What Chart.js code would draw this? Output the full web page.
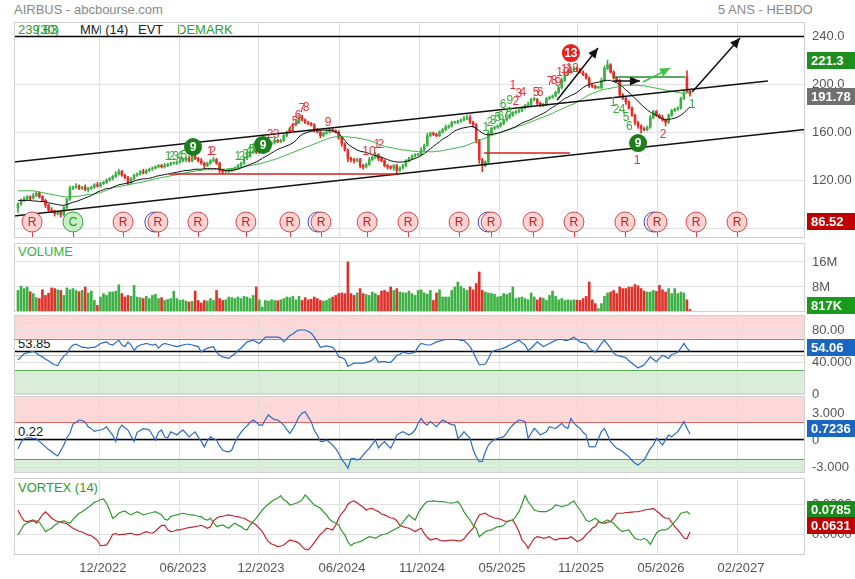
<!DOCTYPE html>
<html>
<head>
<meta charset="utf-8">
<script src="https://cdn.jsdelivr.net/npm/chart.js@4.4.1/dist/chart.umd.min.js"></script>
<style>
  body { margin: 0; width: 855px; height: 579px; background: #fff; position: relative; overflow: hidden; font-family: Arial, "Liberation Sans", sans-serif; }
  canvas { position: absolute; }
  .t { position: absolute; font-size: 13px; line-height: 15px; white-space: nowrap; }
  .badge { position: absolute; left: 807px; width: 48px; height: 17px; line-height: 17px; color: #fff; font-weight: bold; font-size: 13px; padding-left: 4px; box-sizing: border-box; z-index: 5; }
</style>
</head>
<body>
<div class="t" style="left:14px;top:2px;color:#888">AIRBUS - abcbourse.com</div>
<div class="t" style="left:718px;top:2px;color:#888">5 ANS - HEBDO</div>
<div class="t" style="left:18px;top:22px;color:#2e9e2e">239.83</div>
<div class="t" style="left:36px;top:22px;color:#2e9e2e">(30)</div>
<div class="t" style="left:80px;top:22px;color:#222">MM (14)</div>
<div class="t" style="left:138px;top:22px;color:#222">EVT</div>
<div class="t" style="left:177px;top:22px;color:#2e9e2e">DEMARK</div>
<div class="t" style="left:18px;top:244px;color:#3cb043">VOLUME</div>
<div class="t" style="left:18px;top:316px;color:#3a6fc0">RSI (14)</div>
<div class="t" style="left:18px;top:336px;color:#111">53.85</div>
<div class="t" style="left:18px;top:398px;color:#3a6fc0">PGO (14)</div>
<div class="t" style="left:18px;top:424px;color:#111">0.22</div>
<div class="t" style="left:18px;top:480px;color:#2e9a2e">VORTEX (14)</div>

<div class="badge" style="top:52px;background:#1e8e1e">221.3</div>
<div class="badge" style="top:88px;background:#707070">191.78</div>
<div class="badge" style="top:213px;background:#c00000">86.52</div>
<div class="badge" style="top:297px;background:#1a9a1a">817K</div>
<div class="badge" style="top:339px;background:#1a66c0">54.06</div>
<div class="badge" style="top:420px;background:#1a66c0">0.7236</div>
<div class="badge" style="top:501px;background:#1a8a1a">0.0785</div>
<div class="badge" style="top:517px;background:#c00000">0.0631</div>

<script>
// weekly data, oldest first
const closes = [
  100, 103, 104, 106, 105, 107, 109, 106, 103, 99,
  95, 94, 92, 93, 91, 97, 104, 113, 114, 115,
  113, 114, 112, 113, 114, 116, 115, 117, 118, 120,
  121, 123, 125, 127, 124, 122, 118, 121, 124, 125,
  127, 126, 128, 129, 130, 131, 132, 131, 132, 133,
  134, 134, 135, 136, 137, 138, 136, 140, 138, 136,
  134, 132, 134, 136, 137, 134, 128, 127, 127, 128,
  129, 130, 132, 134, 138, 140, 143, 144, 143, 145,
  147, 149, 150, 151, 153, 152, 153, 157, 160, 163,
  166, 168, 172, 170, 168, 167, 166, 162, 160, 157,
  159, 160, 162, 161, 160, 155, 150, 145, 138, 137,
  136, 137, 132, 131, 133, 137, 139, 141, 138, 136,
  132, 131, 130, 132, 128, 130, 132, 136, 138, 140,
  141, 141, 145, 149, 157, 159, 158, 157, 160, 162,
  164, 165, 168, 168, 169, 170, 171, 172, 168, 166,
  153, 137, 132, 135, 159, 163, 164, 165, 167, 170,
  172, 174, 176, 177, 178, 180, 182, 183, 187, 187,
  184, 182, 183, 188, 189, 190, 193, 197, 203, 208,
  210, 212, 213, 212, 210, 208, 205, 199, 198, 197,
  197, 203, 213, 216, 210, 205, 203, 191, 188, 185,
  180, 174, 168, 165, 163, 162, 164, 172, 177, 174,
  172, 170, 168, 174, 178, 179, 180, 188, 192, 194,
  191.78
];
const firstOpen = 97;
const openGaps = [[219, 206]];
const wickUp = [
  1,1,2,1,1,2,1,1,1,1, 1,2,1,1,1,1,1,2,1,2, 1,1,2,1,1,1,2,1,1,1, 1,1,2,2,1,1,1,1,1,1,
  1,2,1,1,1,1,1,1,2,1, 1,1,1,2,1,1,2,3,1,1, 2,1,1,1,2,1,1,1,1,1, 1,1,1,1,1,2,1,1,2,1,
  1,1,1,1,2,1,1,1,1,1, 1,2,2,2,1,1,1,1,1,1, 1,2,1,1,1,1,1,1,1,1, 1,1,1,1,1,2,1,2,1,1,
  1,1,1,1,1,1,1,1,1,1, 1,1,2,1,2,1,1,1,1,1, 2,1,1,1,1,1,2,2,2,1, 1,1,1,1,2,1,1,1,1,1,
  1,1,1,1,1,1,1,2,1,2, 1,1,1,1,1,1,1,1,2,2, 2,2,2,1,1,1,1,1,1,1, 1,2,2,4,1,1,1,1,1,1,
  1,1,1,1,1,1,1,2,1,1, 1,2,1,1,1,1,1,1,2,5, 1
];
const wickDown = [
  4,1,1,1,2,1,1,1,1,2, 1,1,2,1,2,1,1,1,1,1, 1,1,1,2,1,1,1,1,1,1, 1,1,1,1,1,1,2,1,1,1,
  1,1,1,1,1,1,1,1,1,1, 1,1,1,1,1,2,1,1,1,1, 1,2,1,1,1,1,2,2,1,1, 1,1,1,1,1,1,1,1,1,1,
  1,1,1,1,1,1,1,1,1,1, 1,1,1,1,1,1,1,2,1,2, 1,1,1,1,1,1,2,1,3,2, 2,1,2,2,1,1,1,1,2,1,
  1,2,1,2,3,1,1,1,1,1, 1,1,1,1,1,1,1,1,1,1, 1,1,1,1,1,1,1,1,1,2, 2,3,5,1,1,1,1,1,1,1,
  1,1,1,1,1,1,1,1,1,1, 2,1,1,1,1,1,1,1,1,1, 1,1,1,1,1,1,1,2,1,1, 1,1,1,1,1,1,1,2,1,2,
  1,1,2,2,4,1,1,1,1,1, 1,1,3,1,1,1,1,1,1,1, 2
];
const volumes = [
  6.9, 8.3, 7.5, 8.0, 6.5, 5.9, 4.6, 4.3, 7.1, 5.3,
  6.0, 7.7, 7.5, 7.1, 6.9, 5.3, 7.7, 7.1, 7.5, 6.9,
  6.5, 6.9, 8.0, 6.1, 6.7, 3.7, 2.1, 4.8, 5.9, 5.3,
  6.4, 6.4, 6.7, 8.7, 5.9, 4.8, 5.3, 5.0, 8.5, 4.8,
  4.6, 4.3, 5.0, 4.3, 5.3, 5.7, 4.3, 4.6, 3.7, 4.0,
  4.3, 6.6, 4.3, 3.7, 3.9, 3.5, 3.2, 3.4, 6.7, 3.7,
  2.9, 3.7, 3.5, 4.3, 3.7, 6.9, 4.3, 3.7, 3.9, 4.8,
  4.6, 4.3, 4.8, 4.3, 5.0, 4.8, 4.3, 5.3, 8.0, 3.9,
  1.6, 3.7, 3.5, 3.9, 3.7, 3.6, 3.9, 4.3, 4.8, 4.6,
  5.0, 3.9, 5.0, 3.7, 4.6, 3.9, 4.1, 4.8, 4.3, 3.7,
  3.5, 3.7, 4.3, 4.8, 5.3, 5.9, 6.1, 5.9, 16.0, 5.9,
  5.3, 6.1, 7.5, 5.9, 5.6, 5.3, 6.4, 5.9, 5.3, 6.7,
  6.9, 6.4, 8.0, 6.9, 7.5, 6.4, 6.2, 6.1, 6.7, 5.9,
  5.3, 6.9, 7.1, 6.1, 5.7, 6.9, 3.7, 6.1, 7.1, 4.8,
  4.8, 4.8, 6.9, 8.0, 9.6, 8.2, 7.5, 6.9, 8.0, 7.1,
  9.1, 12.8, 6.9, 6.4, 6.1, 5.9, 5.7, 4.8, 5.0, 5.9,
  5.6, 6.1, 8.0, 4.3, 4.6, 4.8, 4.3, 3.9, 6.1, 4.8,
  3.9, 4.6, 4.4, 3.7, 5.3, 6.7, 5.0, 3.9, 4.3, 3.7,
  3.9, 3.7, 3.9, 3.8, 3.7, 4.3, 5.0, 9.6, 3.9, 2.7,
  1.1, 2.7, 5.0, 6.1, 6.4, 6.9, 5.9, 8.0, 7.5, 7.5,
  8.0, 8.0, 8.8, 8.4, 7.5, 6.7, 6.4, 6.4, 6.9, 6.6,
  8.5, 7.1, 6.4, 7.5, 5.9, 7.5, 5.9, 6.4, 6.1, 3.9,
  0.817
];
const ma14 = [
  103, 103, 103, 103, 103, 102.5, 102.5, 102, 102, 102,
  101, 100.5, 100, 99.5, 99, 99, 99.5, 100.5, 101.5, 102,
  103, 104, 105, 106, 107, 108.5, 110, 111, 112, 113,
  113, 114, 115, 116, 116.5, 117, 117.5, 118, 119, 120,
  120.5, 121, 121, 121.5, 122, 123, 123.5, 124, 124.5, 125,
  125.5, 126, 126.5, 127, 127.5, 128, 128, 128.5, 129, 129,
  129, 129.5, 129.5, 129.5, 129.5, 129.5, 129, 128.5, 128, 128,
  128, 128.5, 129, 130, 131, 132, 133, 134, 135, 136.5,
  138, 139.5, 141, 142.5, 144, 145.5, 146.5, 147.5, 148.5, 149.5,
  151, 153, 156, 158, 159, 160, 160.5, 161, 161.5, 161.5,
  161.5, 161.5, 161.5, 161, 160, 159, 156, 153, 150, 148,
  146.5, 145, 144, 143.5, 143, 142, 141, 140.5, 139.5, 139,
  138, 137, 136, 135.5, 135, 135, 135, 135.5, 136, 137,
  138, 139, 140.5, 142, 144, 146, 148, 150, 152, 154,
  155.5, 157, 159, 161, 162, 163, 163.5, 164, 164.5, 164.5,
  163, 161, 159, 158, 157.5, 158, 158.5, 159, 159.5, 160.5,
  161.5, 162.5, 163.5, 164.5, 166, 167.5, 168.5, 169.5, 170.5, 172,
  173, 174.5, 175.5, 177, 179, 180.5, 182, 184, 186, 188,
  189, 190.5, 191.5, 193, 195, 197, 198.5, 199.5, 200.5, 201,
  201.5, 202, 203, 203, 203, 202, 201, 199.5, 197.5, 195,
  193, 190.5, 188, 185.5, 183, 180.5, 178.5, 176.5, 175, 174,
  172.5, 171, 170, 170.5, 171, 171.5, 172.5, 174, 176, 178.5,
  181
];
const ma30 = [
  111, 111, 111, 111, 111, 111, 110.5, 110, 109.5, 109,
  108.5, 108, 107.5, 107, 106.5, 106, 106, 106, 106, 106.5,
  106.5, 107, 107.5, 108, 108, 108.5, 109, 109.5, 110.5, 111.5,
  112.5, 113.5, 114, 114.5, 115, 115.5, 116, 116.5, 117, 117.5,
  118, 118.5, 119, 119.5, 120.5, 121, 121.5, 122, 122.5, 123,
  123.5, 124, 124.5, 125, 125.5, 126, 126.5, 127, 127.5, 128,
  128, 128.5, 128.5, 128.5, 128.5, 129, 129, 129, 129, 129.5,
  129.5, 130, 130, 130.5, 131, 131.5, 132, 132.5, 133, 133.5,
  134, 135, 135.5, 136.5, 137, 138, 139, 140, 141, 142,
  143, 144, 145, 146, 147, 148, 149, 150, 151, 152,
  153, 154, 155, 155.5, 156, 156, 156, 156, 156, 155.5,
  155.5, 155, 154.5, 154, 153.5, 153, 152, 151, 150, 149,
  148, 147.5, 147, 146.5, 146, 145.5, 145, 145, 144.5, 144,
  144, 143.5, 143.5, 143.5, 143.5, 143.5, 143.5, 144, 144, 144.5,
  145, 145.5, 146, 146.5, 147, 147.5, 148, 149, 150, 151,
  152, 153, 154, 155, 156, 157, 158, 159, 160, 161,
  161.5, 162, 163, 164, 165, 165.5, 166.5, 167.5, 168.5, 169.5,
  170.5, 171.5, 172.5, 173.5, 174.5, 175.5, 177, 178, 179, 180.5,
  181.5, 182.5, 183.5, 185, 186.5, 188, 189.5, 191, 192, 193,
  194, 195, 195.5, 196, 196.5, 197, 197.5, 198, 198.5, 199,
  199, 199, 199, 199, 198.5, 198.5, 198, 197.5, 197, 196.5,
  196, 195.5, 195, 194.5, 194, 193.5, 193, 192.5, 192.5, 192.5,
  193
];
const rsi = [
  43, 47, 51, 52, 53, 54, 52, 49, 47, 44,
  42, 39, 37, 36, 43, 48, 51, 58, 62, 63,
  61, 59, 59, 58, 59, 59, 61, 64, 65, 66,
  63, 62, 65, 68, 62, 60, 66, 62, 55, 60,
  62, 63, 64, 63, 62, 63, 58, 62, 64, 63,
  62, 61, 60, 61, 62, 63, 63, 62, 61, 60,
  53, 56, 58, 59, 60, 53, 49, 47, 46, 45,
  48, 51, 55, 58, 62, 66, 67, 68, 66, 64,
  68, 72, 72, 72, 72, 72, 71, 66, 70, 74,
  76, 79, 81, 81, 81, 79, 77, 72, 66, 59,
  60, 61, 60, 59, 55, 47, 46, 44, 35, 37,
  39, 39, 39, 39, 40, 41, 43, 47, 40, 41,
  41, 40, 40, 44, 49, 50, 53, 52, 51, 52,
  53, 60, 64, 63, 62, 62, 64, 66, 67, 68,
  69, 69, 69, 69, 69, 68, 68, 64, 60, 53,
  45, 37, 37, 38, 45, 53, 55, 56, 57, 58,
  60, 62, 64, 66, 68, 65, 62, 55, 58, 62,
  66, 63, 60, 62, 64, 66, 68, 69, 69, 68,
  68, 70, 72, 69, 66, 65, 64, 58, 55, 53,
  58, 64, 68, 63, 58, 52, 49, 48, 47, 46,
  42, 39, 36, 33, 35, 37, 42, 47, 44, 41,
  45, 49, 47, 45, 50, 51, 53, 58, 64, 58,
  54.06
];
const pgo = [
  -0.9, -0.2, 0.2, 0.3, 0.3, 0.2, 0.2, -0.1, -0.4, -0.7,
  -1.0, -1.2, -1.5, -1.7, -1.1, -0.5, 0.3, 0.8, 1.8, 2.0,
  2.25, 2.2, 2.05, 1.5, 1.3, 1.0, 1.1, 1.15, 1.3, 1.5,
  1.0, 0.6, -0.1, 1.2, 1.7, 1.4, 1.15, 0.5, -0.1, 0.9,
  1.1, 1.3, 1.25, 1.15, 0.6, 0.05, 0.9, 1.15, 0.4, 0.3,
  0.95, 0.8, 0.6, 0.9, 1.15, 0.8, 0.4, 0.7, 0.95, 0.4,
  -0.1, -0.7, 0.0, 0.4, 0.2, 0.05, -0.6, -1.05, -1.2, -1.25,
  -1.05, -0.2, 0.4, 0.9, 1.3, 1.6, 2.0, 2.25, 2.0, 1.7,
  1.7, 2.3, 2.8, 2.5, 2.3, 2.25, 2.0, 1.7, 1.2, 0.8,
  1.3, 1.9, 2.6, 3.0, 3.16, 2.6, 2.07, 1.1, 0.6, -0.1,
  -0.1, 0.05, -0.2, -0.5, -0.9, -1.4, -2.1, -2.5, -3.06, -2.0,
  -1.96, -2.14, -2.0, -1.6, -1.2, -0.86, -0.4, 0.05, -0.8, -0.4,
  -0.13, -0.5, -0.86, -0.2, 0.6, 0.8, 0.97, 0.8, 0.6, 0.8,
  1.15, 1.9, 2.43, 1.9, 1.7, 2.07, 1.8, 1.52, 1.9, 2.25,
  2.1, 1.88, 1.75, 1.7, 0.24, 0.5, 0.97, 0.6, 0.24, -1.0,
  -1.78, -2.33, -2.3, -1.23, -0.5, -0.13, 0.1, 0.24, 0.3, 0.42,
  0.8, 1.34, 1.7, 2.0, 2.25, 2.2, 2.07, 0.24, 0.8, 1.34,
  1.0, 0.6, 0.8, 0.97, 1.52, 1.4, 1.34, 1.6, 1.88, 1.5,
  1.34, 2.43, 1.9, 1.6, 1.34, 0.9, 0.6, -0.68, -0.7, -0.68,
  0.2, 0.97, 1.34, 0.6, -0.13, -0.5, -0.86, -1.0, -1.23, -1.5,
  -1.78, -2.2, -2.5, -2.7, -2.4, -2.14, -1.5, -0.9, -0.5, 0.24,
  -0.1, -0.5, 0.1, 0.6, 0.42, 0.7, 0.97, 1.5, 2.07, 1.34,
  0.7236
];
const viPlus = [
  0.896, 0.93, 0.962, 0.975, 0.984, 0.987, 0.989, 0.98, 0.95, 0.918,
  0.93, 0.94, 0.96, 0.973, 0.985, 0.989, 0.98, 0.973, 1.0, 1.02,
  1.04, 1.05, 1.065, 1.08, 1.095, 1.113, 1.12, 1.13, 1.135, 1.107,
  1.06, 1.007, 1.02, 1.04, 1.05, 1.055, 1.04, 1.029, 1.04, 1.051,
  1.04, 1.029, 1.035, 1.04, 1.045, 1.051, 1.04, 1.029, 1.0, 0.995,
  1.018, 1.025, 1.029, 1.035, 1.04, 1.035, 1.03, 1.029, 1.025, 1.02,
  1.018, 1.0, 0.995, 1.007, 0.98, 0.951, 0.958, 0.962, 0.95, 0.94,
  0.96, 0.973, 0.96, 0.951, 0.935, 0.929, 0.962, 0.985, 1.007, 1.035,
  1.062, 1.084, 1.1, 1.118, 1.13, 1.14, 1.158, 1.13, 1.118, 1.095,
  1.1, 1.107, 1.115, 1.129, 1.162, 1.14, 1.118, 1.095, 1.085, 1.073,
  1.05, 1.029, 1.0, 0.984, 0.975, 0.962, 0.92, 0.896, 0.85, 0.824,
  0.84, 0.845, 0.851, 0.86, 0.873, 0.884, 0.88, 0.873, 0.885, 0.896,
  0.9, 0.907, 0.918, 0.929, 0.94, 0.951, 0.98, 1.007, 1.029, 1.01,
  0.995, 1.04, 1.073, 1.1, 1.118, 1.12, 1.122, 1.12, 1.118, 1.118,
  1.115, 1.11, 1.107, 1.112, 1.118, 1.09, 1.051, 1.02, 0.995, 0.96,
  0.94, 0.884, 0.9, 0.918, 0.925, 0.929, 0.94, 0.951, 0.951, 0.96,
  0.984, 0.99, 0.995, 1.02, 1.051, 1.1, 1.158, 1.118, 1.09, 1.062,
  1.055, 1.051, 1.051, 1.051, 1.062, 1.073, 1.095, 1.09, 1.084, 1.09,
  1.095, 1.11, 1.122, 1.09, 1.062, 1.03, 0.995, 0.984, 0.995, 1.007,
  0.99, 0.973, 0.985, 0.995, 0.985, 0.973, 0.95, 0.93, 0.918, 0.925,
  0.929, 0.9, 0.873, 0.865, 0.862, 0.873, 0.86, 0.833, 0.87, 0.907,
  0.925, 0.929, 0.929, 0.94, 0.962, 0.985, 1.007, 1.04, 1.045, 1.051,
  1.033
];
const viMinus = [
  1.06, 1.02, 0.99, 0.985, 0.99, 0.995, 0.975, 1.0, 1.03, 1.05,
  1.03, 1.007, 0.995, 0.984, 0.98, 0.975, 0.97, 0.955, 0.94, 0.93,
  0.92, 0.915, 0.905, 0.896, 0.89, 0.875, 0.86, 0.824, 0.826, 0.829,
  0.86, 0.9, 0.905, 0.896, 0.9, 0.9, 0.905, 0.907, 0.9, 0.896,
  0.9, 0.91, 0.918, 0.91, 0.907, 0.92, 0.94, 0.96, 0.96, 0.93,
  0.918, 0.92, 0.93, 0.93, 0.935, 0.94, 0.945, 0.948, 0.951, 0.955,
  0.96, 0.95, 0.94, 0.95, 0.99, 1.007, 1.018, 1.02, 1.025, 1.029,
  1.025, 1.02, 1.018, 1.01, 1.007, 0.995, 0.984, 0.975, 0.962, 0.94,
  0.918, 0.88, 0.851, 0.835, 0.829, 0.818, 0.822, 0.829, 0.845, 0.862,
  0.856, 0.851, 0.84, 0.818, 0.8, 0.796, 0.818, 0.845, 0.873, 0.9,
  0.918, 0.94, 0.935, 0.929, 0.96, 1.007, 1.04, 1.062, 1.1, 1.115,
  1.122, 1.11, 1.095, 1.08, 1.062, 1.07, 1.073, 1.06, 1.051, 1.035,
  1.029, 1.018, 1.01, 1.007, 0.99, 0.96, 0.951, 0.945, 0.94, 0.93,
  0.918, 0.93, 0.94, 0.905, 0.88, 0.862, 0.868, 0.873, 0.86, 0.856,
  0.856, 0.86, 0.862, 0.86, 0.856, 0.856, 0.87, 0.896, 0.92, 0.94,
  0.99, 1.029, 1.035, 1.04, 1.025, 1.018, 1.007, 1.007, 1.0, 0.99,
  0.984, 0.99, 0.995, 0.96, 0.918, 0.86, 0.84, 0.807, 0.84, 0.873,
  0.884, 0.88, 0.873, 0.878, 0.884, 0.87, 0.862, 0.87, 0.873, 0.873,
  0.873, 0.884, 0.87, 0.851, 0.86, 0.873, 0.9, 0.918, 0.94, 0.951,
  0.984, 0.98, 0.973, 0.98, 0.984, 1.01, 1.04, 1.04, 1.04, 1.045,
  1.046, 1.048, 1.05, 1.051, 1.055, 1.062, 1.065, 1.068, 1.073, 1.055,
  1.04, 1.02, 1.007, 1.007, 0.98, 0.951, 0.93, 0.905, 0.875, 0.87,
  0.915
];

// x axis: week index, with the empty weeks after the last candle
const xMin = -1.31, xMax = 257.65;
const xTickPos = [26.8, 53.0, 78.6, 105.1, 131.3, 157.5, 183.3, 209.5, 235.7];
const xTickText = ["12/2022", "", "06/2023", "12/2023", "06/2024", "11/2024", "05/2025", "11/2025", "05/2026", "02/2027"];
const xTickLabels = ["12/2022", "06/2023", "12/2023", "06/2024", "11/2024", "05/2025", "11/2025", "05/2026", "02/2027"];

// events row (R = results, C = coupon)
const eventIdx = [4.6, 18, 34.4, 45.8, 58.9, 74.6, 89, 99.2, 114.3, 127.7, 144.4, 154.9, 168.6, 182, 198.7, 209.2, 222, 235.4];
const eventKind = ["R", "C", "R", "R", "R", "R", "R", "R", "R", "R", "R", "R", "R", "R", "R", "R", "R", "R"];
const eventDouble = [45.8, 99.2, 154.9, 209.2];

// drawn lines on the price panel: [x1, y1, x2, y2, colour, arrow]
const drawnLines = [
  [-1.31, 135, 245.5, 202.5, "#111", false],
  [-1.31, 90, 257.65, 162.1, "#111", false],
  [49.4, 125, 124.1, 125, "#d42020", false],
  [152.6, 142.5, 180.7, 142.5, "#d42020", false],
  [176.5, 186.7, 189.9, 230, "#111", true],
  [194.8, 202.5, 203.6, 202.5, "#111", true],
  [220.7, 193.3, 236.4, 238.3, "#111", true],
  [194.8, 205.8, 218.4, 205.8, "#2a8a2a", false],
  [204.6, 201.7, 213.5, 213.3, "#3cc43c", true]
];

const RED = "#e8313a", GRN = "#3aaa3a";
// DeMark counts: [week, price, text, colour]
const demarkText = [
  [49.1, 139.2, "1", GRN], [50.4, 139.2, "2", GRN], [51.7, 139.2, "3", GRN], [53, 139.5, "4", GRN], [54.3, 140, "5", GRN],
  [62.9, 143.3, "1", RED], [63.8, 143.3, "2", RED],
  [72, 139.2, "1", GRN], [73.3, 139.2, "2", GRN], [74.6, 140.8, "3", GRN], [75.6, 143.3, "4", GRN], [76.6, 145, "5", GRN], [77.6, 146.7, "6", GRN], [78.6, 148.3, "7", GRN],
  [82.5, 157.5, "2", RED], [84.5, 157.5, "3", RED], [89.4, 161.7, "4", RED], [90.7, 168.3, "5", RED], [91.7, 173.3, "6", RED], [93, 179.2, "7", RED], [94.3, 180, "8", RED],
  [101.5, 167.5, "9", RED], [114.9, 143.3, "10", RED], [117.5, 149.2, "1", RED], [118.8, 149.2, "2", RED],
  [153.2, 163.3, "1", GRN], [154.5, 167.5, "2", GRN], [155.5, 169.2, "3", GRN], [157.1, 171.7, "5", GRN], [158.1, 172.5, "6", GRN], [159.8, 175, "7", GRN], [160.7, 175.8, "8", GRN], [158.8, 182.5, "6", GRN], [161, 185.8, "9", GRN],
  [162, 198.3, "1", RED], [163, 185, "2", RED], [164, 191.7, "3", RED], [165.3, 192.5, "4", RED], [169.6, 192.5, "5", RED], [170.9, 192.5, "6", RED],
  [174.2, 201.7, "7", RED], [175.5, 202.5, "8", RED], [176.8, 200.8, "9", RED], [178.4, 209.2, "10", RED], [179.7, 211.7, "11", RED], [181.4, 212.5, "12", RED],
  [194.8, 184.2, "1", GRN], [195.8, 178.3, "2", GRN], [197.8, 178.3, "4", GRN], [199.1, 171.7, "5", GRN], [200.1, 164.2, "6", GRN],
  [202.7, 135.8, "1", RED], [211.2, 157.5, "2", RED], [220.7, 182.5, "1", GRN]
];
// DeMark completed counts in discs: [week, price, text, fill]
const demarkDiscs = [
  [57.3, 147.5, "9", "#1e7e1e"], [80.2, 149.2, "9", "#1e7e1e"], [181, 225.8, "13", "#e82020"], [203, 150.8, "9", "#1e7e1e"]
];

const opens = closes.map((c, i) => (i === 0 ? firstOpen : closes[i - 1]));
openGaps.forEach(([i, v]) => { opens[i] = v; });
const highs = closes.map((c, i) => Math.max(opens[i], c) + wickUp[i]);
const lows = closes.map((c, i) => Math.min(opens[i], c) - wickDown[i]);
const candleColors = closes.map((c, i) => (c >= opens[i] ? "#3cb043" : "#e0302a"));
const pts = (arr) => arr.map((v, i) => ({ x: i, y: v }));

Chart.defaults.font.family = 'Arial, "Liberation Sans", sans-serif';
Chart.defaults.font.size = 13;
Chart.defaults.color = "#555";

const FONT = 'Arial, "Liberation Sans", sans-serif';

function arrowHead(ctx, x1, y1, x2, y2, color) {
  const a = Math.atan2(y2 - y1, x2 - x1);
  ctx.fillStyle = color;
  ctx.beginPath();
  ctx.moveTo(x2, y2);
  ctx.lineTo(x2 - 10 * Math.cos(a) + 4.5 * Math.sin(a), y2 - 10 * Math.sin(a) - 4.5 * Math.cos(a));
  ctx.lineTo(x2 - 10 * Math.cos(a) - 4.5 * Math.sin(a), y2 - 10 * Math.sin(a) + 4.5 * Math.cos(a));
  ctx.closePath();
  ctx.fill();
}

const overlay = {
  id: "overlay",
  beforeDraw(chart, args, o) {
    const { ctx, chartArea: a, scales: { y } } = chart;
    ctx.save();
    (o.zones || []).forEach((z) => {
      const y1 = Math.max(a.top, y.getPixelForValue(z.to));
      const y2 = Math.min(a.bottom, y.getPixelForValue(z.from));
      ctx.fillStyle = z.color;
      ctx.fillRect(a.left, y1, a.right - a.left, y2 - y1);
    });
    ctx.restore();
  },
  beforeDatasetsDraw(chart, args, o) {
    const { ctx, chartArea: a, scales: { y } } = chart;
    ctx.save();
    (o.hlines || []).forEach((h) => {
      const py = Math.round(y.getPixelForValue(h.y)) + 0.5;
      ctx.strokeStyle = h.color;
      ctx.lineWidth = h.w || 1;
      ctx.beginPath();
      ctx.moveTo(a.left, py);
      ctx.lineTo(a.right, py);
      ctx.stroke();
    });
    ctx.restore();
  },
  afterDatasetsDraw(chart, args, o) {
    const { ctx, chartArea: a, scales: { x, y } } = chart;
    ctx.save();
    ctx.beginPath();
    ctx.rect(a.left, a.top, a.right - a.left, a.bottom - a.top);
    ctx.clip();
    if (o.lines) {
      o.lines.forEach(([x1, y1, x2, y2, col, arrow]) => {
        const p1x = x.getPixelForValue(x1), p1y = y.getPixelForValue(y1);
        const p2x = x.getPixelForValue(x2), p2y = y.getPixelForValue(y2);
        ctx.strokeStyle = col;
        ctx.lineWidth = 1.5;
        ctx.beginPath();
        ctx.moveTo(p1x, p1y);
        ctx.lineTo(p2x, p2y);
        ctx.stroke();
        if (arrow) arrowHead(ctx, p1x, p1y, p2x, p2y, col);
      });
    }
    if (o.texts) {
      ctx.font = "12px " + FONT;
      ctx.textAlign = "center";
      ctx.textBaseline = "middle";
      o.texts.forEach(([xi, v, s, col]) => {
        ctx.fillStyle = col;
        ctx.fillText(s, x.getPixelForValue(xi), y.getPixelForValue(v));
      });
    }
    if (o.discs) {
      o.discs.forEach(([xi, v, s, col]) => {
        const cx = x.getPixelForValue(xi), cy = y.getPixelForValue(v);
        ctx.fillStyle = col;
        ctx.beginPath();
        ctx.arc(cx, cy, 9, 0, Math.PI * 2);
        ctx.fill();
        ctx.fillStyle = "#fff";
        ctx.font = "bold 12px " + FONT;
        ctx.textAlign = "center";
        ctx.textBaseline = "middle";
        ctx.fillText(s, cx, cy + 1);
      });
    }
    if (o.events) {
      const ev = o.events;
      const cy = y.getPixelForValue(ev.price);
      ev.idx.forEach((xi, k) => {
        const cx = x.getPixelForValue(xi);
        const isC = ev.kinds[k] === "C";
        ctx.strokeStyle = isC ? "#3a9a3a" : "#d84848";
        ctx.lineWidth = 1;
        ctx.beginPath();
        ctx.moveTo(Math.round(cx) + 0.5, cy + 10);
        ctx.lineTo(Math.round(cx) + 0.5, a.bottom);
        ctx.stroke();
        if (ev.double.includes(xi)) {
          ctx.strokeStyle = "#3344cc";
          ctx.beginPath();
          ctx.arc(cx - 3, cy, 10, 0, Math.PI * 2);
          ctx.stroke();
        }
        ctx.fillStyle = isC ? "#c6efc6" : "#fbd3d3";
        ctx.strokeStyle = isC ? "#3a9a3a" : "#d84848";
        ctx.beginPath();
        ctx.arc(cx, cy, 10, 0, Math.PI * 2);
        ctx.fill();
        ctx.stroke();
        ctx.fillStyle = isC ? "#2a8a2a" : "#c81e1e";
        ctx.font = "12px " + FONT;
        ctx.textAlign = "center";
        ctx.textBaseline = "middle";
        ctx.fillText(ev.kinds[k], cx, cy + 1);
      });
    }
    ctx.restore();
    ctx.save();
    ctx.strokeStyle = "#d0d0d0";
    ctx.lineWidth = 1;
    ctx.strokeRect(a.left + 0.5, a.top + 0.5, a.right - a.left - 1, a.bottom - a.top - 1);
    ctx.restore();
  }
};
Chart.register(overlay);

function makePanel(cfg) {
  const cv = document.createElement("canvas");
  const h = cfg.height + 4 + (cfg.showX ? 24 : 4);
  cv.width = 845;
  cv.height = h;
  cv.style.left = "10px";
  cv.style.top = (cfg.top - 4) + "px";
  cv.style.width = "845px";
  cv.style.height = h + "px";
  document.body.appendChild(cv);
  return new Chart(cv, {
    type: "bar",
    data: { datasets: cfg.datasets },
    options: {
      responsive: false,
      animation: false,
      events: [],
      layout: { padding: { left: 4, top: 4, right: 0, bottom: cfg.showX ? 0 : 4 } },
      plugins: { legend: { display: false }, tooltip: { enabled: false }, overlay: cfg.overlay || {} },
      scales: {
        x: {
          type: "linear",
          min: xMin,
          max: xMax,
          offset: false,
          grid: { color: "#dedede", drawTicks: false, offset: false },
          border: { display: false },
          ticks: {
            display: !!cfg.showX, autoSkip: false, maxRotation: 0, padding: 6, labelOffset: 3,
            color: "#555", font: { size: 13 },
            callback: (v, i) => xTickLabels[i]
          },
          afterBuildTicks: (s) => { s.ticks = xTickPos.map((v) => ({ value: v })); },
          afterFit: (s) => { s.height = cfg.showX ? 24 : 0; s.paddingLeft = 0; s.paddingRight = 0; }
        },
        y: {
          position: "right",
          min: cfg.yMin,
          max: cfg.yMax,
          grid: { color: "#e0e0e0", drawTicks: false },
          border: { display: false },
          ticks: { padding: 7, color: "#555", font: { size: 13 }, callback: (v, i) => cfg.yText[i] },
          afterBuildTicks: (s) => { s.ticks = cfg.yTicks.map((v) => ({ value: v })); },
          afterFit: (s) => { s.width = 50; s.paddingTop = 0; s.paddingBottom = 0; }
        }
      }
    }
  });
}

const lineDs = (arr, color, width) => ({
  type: "line", data: pts(arr), borderColor: color, borderWidth: width, pointRadius: 0, tension: 0, fill: false
});

// price panel
makePanel({
  top: 22, height: 216, yMin: 71.67, yMax: 251.67,
  yTicks: [80, 120, 160, 200, 240], yText: ["", "120.00", "160.00", "200.0", "240.0"],
  datasets: [
    Object.assign(lineDs(ma14, "#111", 1), { order: 0 }),
    Object.assign(lineDs(ma30, "#3cb043", 1), { order: 1 }),
    { type: "bar", data: closes.map((c, i) => ({ x: i, y: [opens[i], c] })), backgroundColor: candleColors, barThickness: 2, grouped: false, minBarLength: 1, order: 2 },
    { type: "bar", data: closes.map((c, i) => ({ x: i, y: [lows[i], highs[i]] })), backgroundColor: candleColors, barThickness: 1, grouped: false, order: 3 }
  ],
  overlay: {
    hlines: [{ y: 240, color: "#000", w: 1.3 }],
    lines: drawnLines,
    texts: demarkText,
    discs: demarkDiscs,
    events: { idx: eventIdx, kinds: eventKind, double: eventDouble, price: 85 }
  }
});

// volume panel
makePanel({
  top: 243, height: 69, yMin: 0, yMax: 22.08,
  yTicks: [8, 16], yText: ["8M", "16M"],
  datasets: [
    { type: "bar", data: pts(volumes), backgroundColor: candleColors, barThickness: 2, grouped: false }
  ]
});

// RSI panel
makePanel({
  top: 315, height: 79, yMin: 0, yMax: 100,
  yTicks: [0, 40, 80], yText: ["0", "40.000", "80.00"],
  datasets: [lineDs(rsi, "#2a6ac4", 1.2)],
  overlay: {
    zones: [{ from: 70, to: 100, color: "#fcd8d8" }, { from: 0, to: 30, color: "#d9edd9" }],
    hlines: [
      { y: 70, color: "#e06666" }, { y: 30, color: "#5aa85a" },
      { y: 50, color: "#9fc5ec" }, { y: 53.85, color: "#000", w: 1.5 }
    ]
  }
});

// PGO panel
makePanel({
  top: 396, height: 77, yMin: -3.57, yMax: 4.89,
  yTicks: [-3, 0, 3], yText: ["-3.000", "0", "3.000"],
  datasets: [lineDs(pgo, "#2a6ac4", 1.2)],
  overlay: {
    zones: [{ from: 2, to: 5, color: "#fcd8d8" }, { from: -4, to: -2, color: "#d9edd9" }],
    hlines: [{ y: 2, color: "#e06666" }, { y: -2, color: "#5aa85a" }, { y: 0.22, color: "#000", w: 1.5 }]
  }
});

// Vortex panel with the date axis
makePanel({
  top: 478, height: 77, yMin: 0.762, yMax: 1.275, showX: true,
  yTicks: [0.9, 1.1], yText: ["0.0000", "0.0000"],
  datasets: [lineDs(viPlus, "#2e9a2e", 1.2), lineDs(viMinus, "#c4222a", 1.2)]
});
</script>
</body>
</html>
